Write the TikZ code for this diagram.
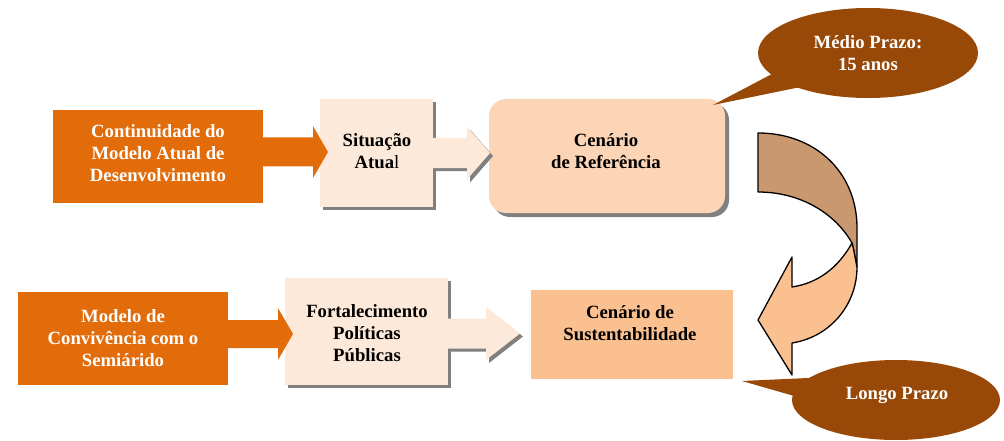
\documentclass[tikz,border=0pt]{standalone}
\usepackage{fontspec}
\setmainfont{Liberation Serif}
\usetikzlibrary{shapes.geometric,shadows}
\definecolor{orangeA}{HTML}{E36C0A}
\definecolor{peachA}{HTML}{FDE9D9}
\definecolor{refA}{HTML}{FBD5B5}
\definecolor{sustA}{HTML}{FAC090}
\definecolor{brownA}{HTML}{984807}
\definecolor{tanA}{HTML}{C9986F}
\definecolor{shadowA}{HTML}{808080}
\newcommand{\blockarrowpath}[6]{(#1,#4-#5) -- (#2,#4-#5) -- (#2,#4-#6) -- (#3,#4) -- (#2,#4+#6) -- (#2,#4+#5) -- (#1,#4+#5) -- cycle}
\begin{document}
\begin{tikzpicture}[x=1pt,y=-1pt,
  every node/.style={inner sep=0pt, outer sep=0pt, align=center, font=\fontsize{18.7}{22}\selectfont\bfseries},
  orangebox/.style={rectangle, fill=orangeA, text=white},
  peachbox/.style={rectangle, fill=peachA, drop shadow={shadow xshift=3pt, shadow yshift=-3pt, fill=shadowA, opacity=1}},
  refbox/.style={rectangle, rounded corners=17pt, fill=refA, drop shadow={shadow xshift=4pt, shadow yshift=-4pt, fill=shadowA, opacity=1}},
  sustbox/.style={rectangle, fill=sustA},
  callout/.style={ellipse, fill=brownA, text=white},
  whitetext/.style={text=white},
  blacktext/.style={text=black},
  curvedface/.style={draw=black, line width=1.3pt, line join=round}
]
\useasboundingbox (0,0) rectangle (1004,441);

% boxes
\node[orangebox, minimum width=210pt, minimum height=93pt] (b1) at (158,156.5) {};
\node[peachbox, minimum width=113pt, minimum height=108pt] (s1) at (376.5,153) {};
\node[refbox, minimum width=236pt, minimum height=114pt] (r1) at (607,156) {};
\node[orangebox, minimum width=210pt, minimum height=93pt] (b2) at (123,338.5) {};
\node[peachbox, minimum width=163pt, minimum height=107pt] (f2) at (366.5,331.5) {};
\node[sustbox, minimum width=202pt, minimum height=89pt] (c2) at (632,334.5) {};

% block arrows
\fill[orangeA] \blockarrowpath{263}{313}{328}{152}{14.5}{26};
\fill[shadowA] [shift={(3,3)}] \blockarrowpath{433}{467}{490}{153}{15}{26.5};
\fill[peachA] \blockarrowpath{433}{467}{490}{153}{15}{26.5};
\fill[orangeA] \blockarrowpath{228}{278}{293}{334}{14}{26};
\fill[shadowA] [shift={(3,3)}] \blockarrowpath{448}{486}{520}{333.5}{15}{26.5};
\fill[peachA] \blockarrowpath{448}{486}{520}{333.5}{15}{26.5};

% texts
\node[whitetext] (t1) at (158,153) {Continuidade do\\Modelo Atual de\\Desenvolvimento};
\node[blacktext] (t2) at (377,151) {Situação\\Atua{\mdseries l}};
\node[blacktext] (t3) at (606,151) {Cenário\\de Referência};
\node[whitetext] (t4) at (123,338) {Modelo de\\Convivência com o\\Semiárido};
\node[blacktext] (t5) at (367,333) {Fortalecimento\\Políticas\\Públicas};
\node[blacktext] (t6) at (630,323) {Cenário de\\Sustentabilidade};

% callouts
\fill[brownA] (713,105) -- (790,64.5) -- (820,83) -- cycle;
\node[callout, minimum width=220pt, minimum height=90pt] (m1) at (868,53) {Médio Prazo:\\15 anos};
\fill[brownA] (742,381) -- (830,377) -- (815,402) -- cycle;
\node[callout, minimum width=208pt, minimum height=80pt] (l2) at (896,400) {};
\node[whitetext] (t7) at (897,395) {Longo Prazo};

% curved arrow
\filldraw[curvedface, fill=tanA] (758,133) .. controls (815,133) and (857,172) .. (857,228) -- (857,267)
  .. controls (855,258) and (854,250) .. (852,243)
  .. controls (835,213) and (800,192) .. (758,192) -- cycle;
\filldraw[curvedface, fill=sustA] (852,243) .. controls (838,268) and (818,283) .. (792,287)
  -- (792,257) -- (758,320) -- (792,375) -- (792,343)
  .. controls (830,337) and (857,305) .. (857,267)
  .. controls (855,258) and (854,250) .. (852,243) -- cycle;
\end{tikzpicture}
\end{document}
